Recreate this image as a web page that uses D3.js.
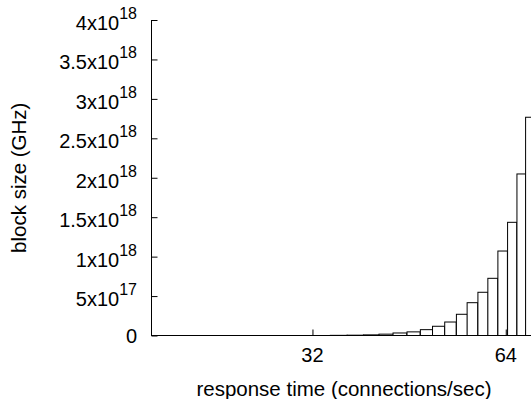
<!DOCTYPE html>
<html>
<head>
<meta charset="utf-8">
<script src="https://cdn.jsdelivr.net/npm/d3@7"></script>
<style>
  html, body { margin: 0; padding: 0; background: #fff; overflow: hidden; }
  svg { display: block; font-family: "Liberation Sans", Arial, Helvetica, sans-serif; }
</style>
</head>
<body>
<svg id="chart" width="531" height="399"></svg>
<script>
// ---- data ----
const barCenters = [35.2, 37.3, 39.5, 41.7, 43.8, 46.0, 48.2, 50.3, 52.5, 54.7, 56.8, 59.0, 61.1, 63.3, 65.5, 67.7, 69.8];
const barValues  = [2e15, 4e15, 8e15, 1.7e16, 3.2e16, 4.6e16, 7.4e16, 1.17e17, 1.71e17, 2.69e17, 4.16e17, 5.48e17, 7.25e17, 1.071e18, 1.435e18, 2.048e18, 2.767e18];
const barWidth = 2.16;           // width of each box in x units
const xTicks = [32, 64];
const yTicks = [0, 5e17, 1e18, 1.5e18, 2e18, 2.5e18, 3e18, 3.5e18, 4e18];
const yTickMantissa = ["0", "5x10", "1x10", "1.5x10", "2x10", "2.5x10", "3x10", "3.5x10", "4x10"];
const yTickExponent = ["", "17", "18", "18", "18", "18", "18", "18", "18"];
const xDomain = [18, 72];
const yDomain = [0, 4e18];
const xLabel = "response time (connections/sec)";
const yLabel = "block size (GHz)";

// ---- layout ----
const mLeft = 152, mBottom = 335.5, mTop = 20;
const mRight = mLeft + 386.6;
const tickLen = 6;

const svg = d3.select("#chart");

const x = d3.scaleLog().base(2).domain(xDomain).range([mLeft, mRight]);
const y = d3.scaleLinear().domain(yDomain).range([mBottom, mTop]);

// bars
svg.append("g")
  .selectAll("rect")
  .data(barCenters.map((c, i) => ({c, v: barValues[i]})))
  .join("rect")
  .attr("x", d => x(d.c - barWidth / 2))
  .attr("width", d => x(d.c + barWidth / 2) - x(d.c - barWidth / 2))
  .attr("y", d => y(d.v))
  .attr("height", d => y(0) - y(d.v))
  .attr("fill", "#fff")
  .attr("stroke", "#000")
  .attr("stroke-width", 1);

// y axis
const yAxis = svg.append("g").attr("transform", `translate(${mLeft - 0.5},0)`)
  .call(d3.axisRight(y).tickValues(yTicks).tickSize(tickLen).tickFormat(""));
yAxis.select(".domain").attr("d", `M0,${mTop}V${mBottom}`).attr("stroke", "#000");
yAxis.selectAll(".tick line").attr("stroke", "#000");

// y tick labels
const yl = svg.append("g").attr("font-size", 20).attr("fill", "#000");
yTicks.forEach((t, i) => {
  const txt = yl.append("text")
    .attr("x", 137)
    .attr("y", y(t) + (yTickExponent[i] ? 10 : 7))
    .attr("text-anchor", "end");
  txt.append("tspan").text(yTickMantissa[i]);
  if (yTickExponent[i]) {
    txt.append("tspan").attr("dy", -11).attr("font-size", 16).text(yTickExponent[i]);
  }
});

// x axis
const xAxis = svg.append("g").attr("transform", `translate(0,${mBottom})`)
  .call(d3.axisTop(x).tickValues(xTicks).tickSize(tickLen).tickFormat(""));
xAxis.select(".domain").attr("d", `M${mLeft - 1},0H${mRight}`).attr("stroke", "#000");
xAxis.selectAll(".tick line").attr("stroke", "#000");

// x tick labels
svg.append("g").attr("font-size", 20)
  .selectAll("text").data(xTicks).join("text")
  .attr("x", d => x(d))
  .attr("y", 362)
  .attr("text-anchor", "middle")
  .text(d => d);

// axis titles
svg.append("text")
  .attr("x", 344).attr("y", 396)
  .attr("text-anchor", "middle")
  .attr("font-size", 20.5)
  .text(xLabel);

svg.append("text")
  .attr("transform", `translate(26,${(mTop + mBottom) / 2}) rotate(-90)`)
  .attr("text-anchor", "middle")
  .attr("font-size", 20.5)
  .text(yLabel);
</script>
</body>
</html>
